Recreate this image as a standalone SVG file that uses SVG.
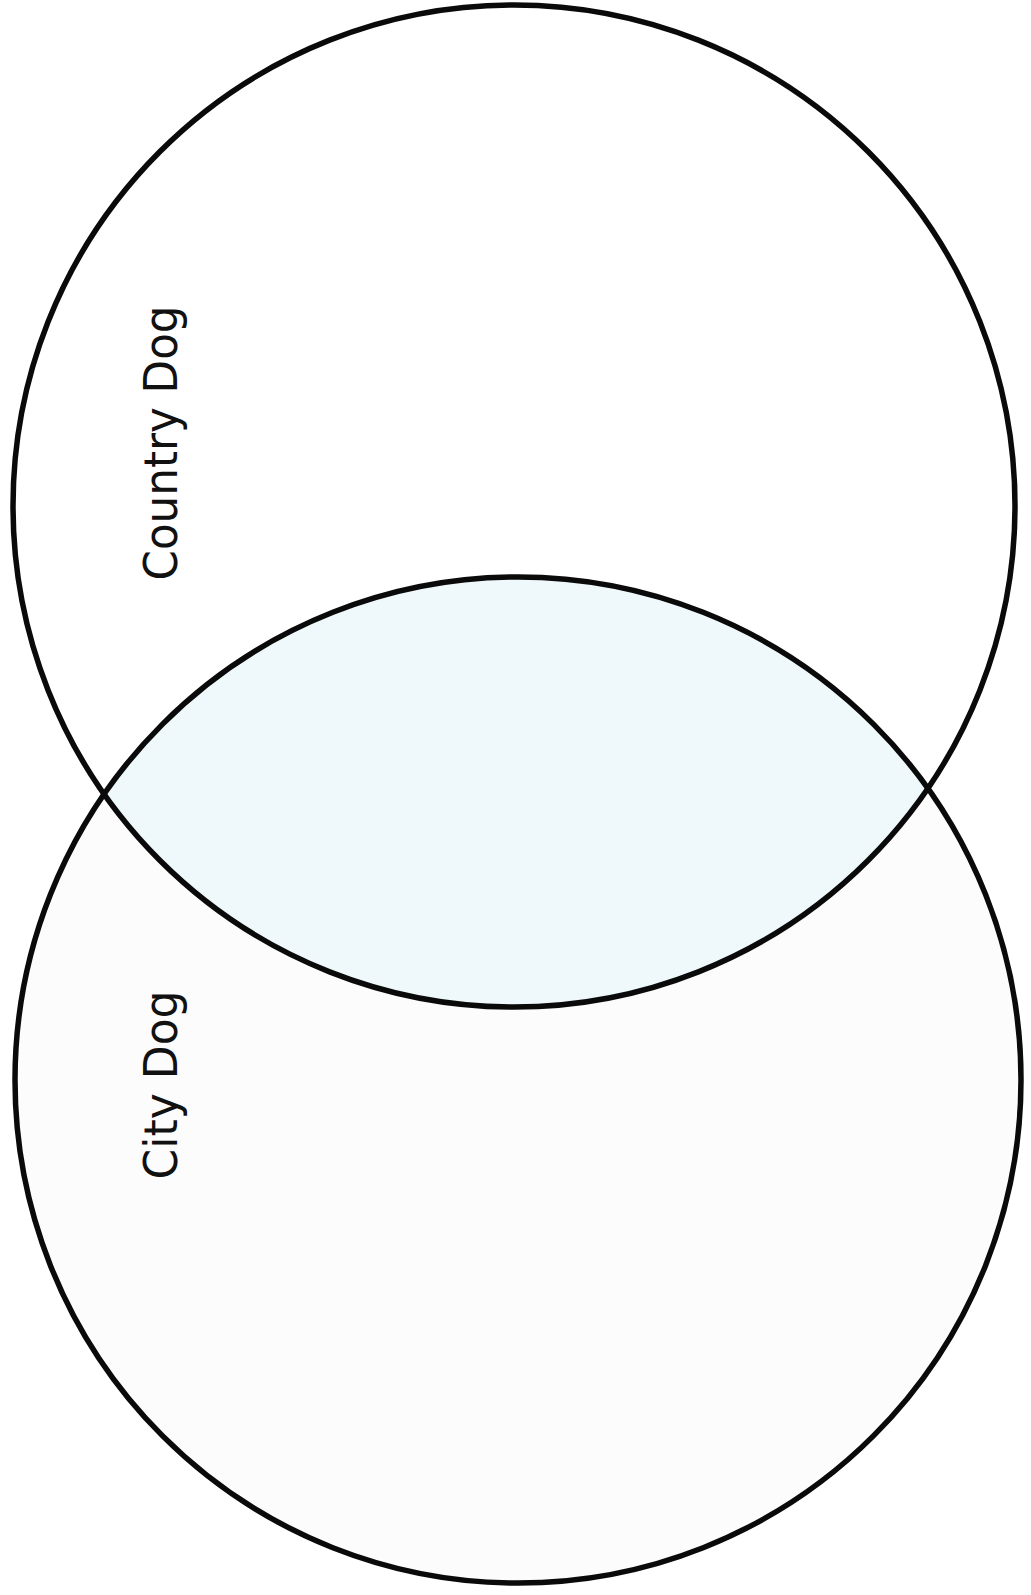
<svg xmlns="http://www.w3.org/2000/svg" width="1031" height="1595" viewBox="0 0 1031 1595">
<style>
.ring{fill:none;stroke:#0a0a0a;stroke-width:5.5}
.lbl{font-family:"DejaVu Sans",sans-serif;font-size:46px;fill:#111}
</style>
<defs>
<clipPath id="topClip"><circle cx="514" cy="506" r="501"/></clipPath>
</defs>
<rect width="1031" height="1595" fill="#ffffff"/>
<g id="city-dog">
<circle cx="518" cy="1080" r="503" fill="#fdfcfd"/>
</g>
<g id="overlap">
<circle cx="518" cy="1080" r="503" fill="#eff9fb" clip-path="url(#topClip)"/>
</g>
<g id="country-dog-ring"><circle class="ring" cx="514" cy="506" r="501"/></g>
<g id="city-dog-ring"><circle class="ring" cx="518" cy="1080" r="503"/></g>
<g id="country-dog-label">
<text class="lbl" x="0" y="0" text-anchor="middle" textLength="275" lengthAdjust="spacingAndGlyphs" transform="translate(177,443) rotate(-90)">Country Dog</text>
</g>
<g id="city-dog-label">
<text class="lbl" x="0" y="0" text-anchor="middle" textLength="189" lengthAdjust="spacingAndGlyphs" transform="translate(177,1085) rotate(-90)">City Dog</text>
</g>
</svg>
